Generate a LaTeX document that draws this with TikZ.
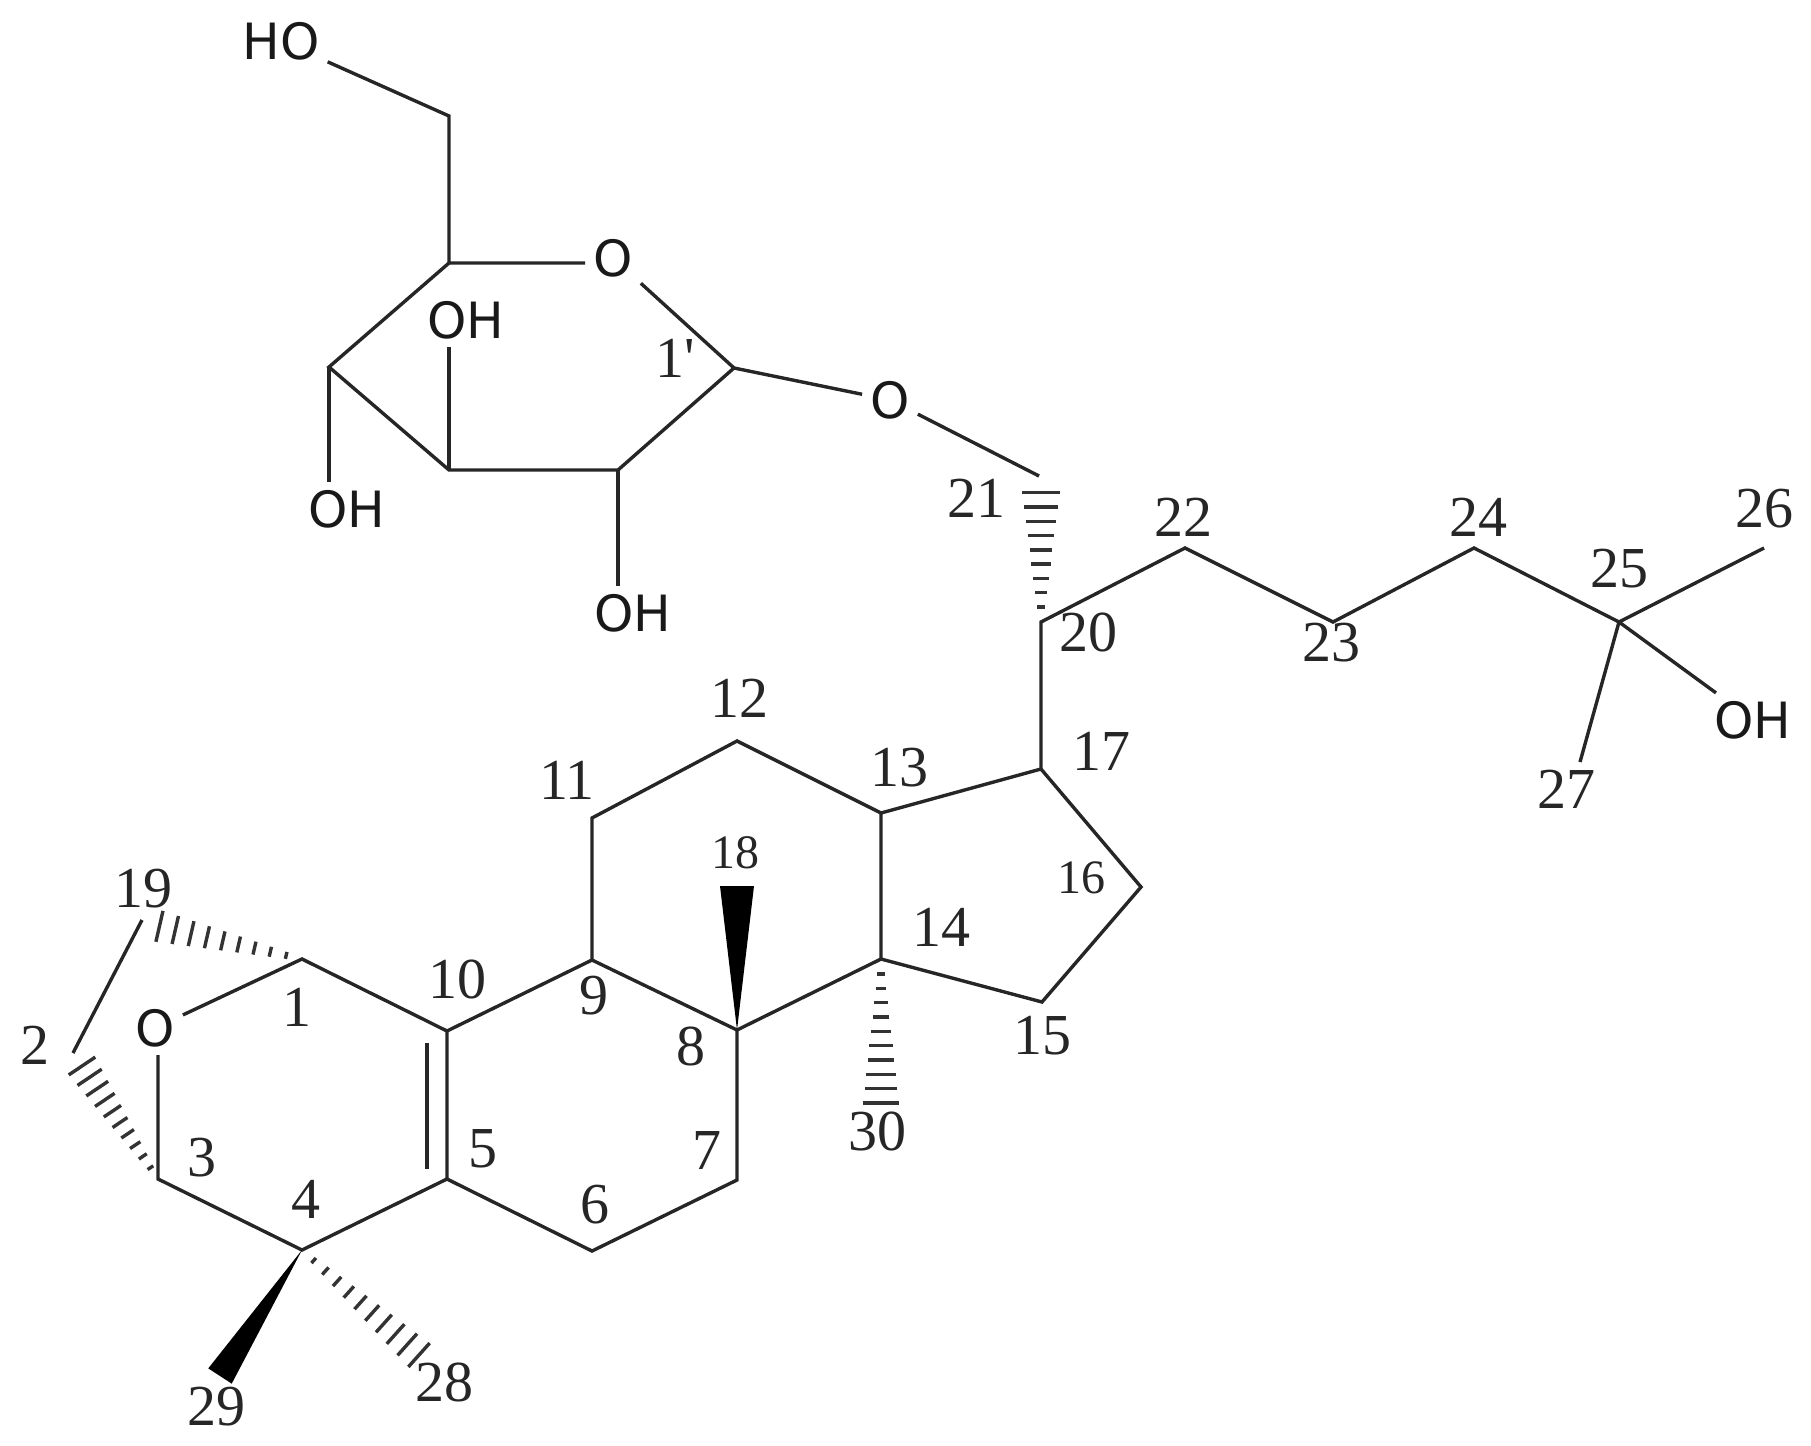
\documentclass[tikz,border=0pt]{standalone}
\usepackage{fontspec}
\setmainfont{Liberation Serif}
\newfontfamily\atomfont{DejaVu Sans}
\usetikzlibrary{calc}

% enlace punteado que se abre de #1 a #2, #3 = media anchura final, #4 = posiciones
\newcommand{\hashbond}[4]{
    \foreach \t [evaluate=\t as \d using 2+\t*(#3-2)] in {#4} {
        \draw[hash] ($(#1)!\t!(#2)!\d pt!90:(#2)$) -- ($(#1)!\t!(#2)!\d pt!-90:(#2)$);
    }
}
% enlace en cuna
\newcommand{\wedgebond}[3]{
    \fill ($(#2)!#3 pt!90:(#1)$) -- (#1) -- ($(#2)!#3 pt!-90:(#1)$) -- cycle;
}

\begin{document}
\begin{tikzpicture}[
        x=1pt, y=-1pt,
        bond/.style={line width=3.4pt, black!85},
        hash/.style={line width=3.4pt, black!80},
        num/.style={font=\fontsize{58}{60}\selectfont, inner sep=0pt, black!85},
        numsmall/.style={font=\fontsize{48}{50}\selectfont, inner sep=0pt, black!85},
        atom/.style={font=\atomfont\fontsize{50}{52}\selectfont, inner sep=8pt, black!90}
    ]
        \useasboundingbox (0,0) rectangle (1811,1445);

        % --- Atomos del esqueleto ---
        \coordinate (C1) at (302,959);
        \coordinate (C2) at (73,1053);
        \coordinate (C3) at (158,1179);
        \coordinate (C4) at (302,1250);
        \coordinate (C5) at (447,1179);
        \coordinate (C6) at (592,1251);
        \coordinate (C7) at (737,1180);
        \coordinate (C8) at (737,1030);
        \coordinate (C9) at (592,960);
        \coordinate (C10) at (447,1031);
        \coordinate (C11) at (592,818);
        \coordinate (C12) at (737,741);
        \coordinate (C13) at (881,813);
        \coordinate (C14) at (881,959);
        \coordinate (C15) at (1042,1002);
        \coordinate (C16) at (1141,887);
        \coordinate (C17) at (1041,769);
        \coordinate (C18) at (737,886);
        \coordinate (C19) at (142,920);
        \coordinate (C20) at (1041,622);
        \coordinate (C21) at (1039,476);
        \coordinate (C22) at (1185,548);
        \coordinate (C23) at (1333,622);
        \coordinate (C24) at (1474,548);
        \coordinate (C25) at (1619,622);
        \coordinate (C26) at (1764,548);
        \coordinate (C27) at (1580,762);
        \coordinate (C28) at (419,1355);
        \coordinate (C29) at (220,1376);
        \coordinate (C30) at (881,1103);

        % puntos finales de los enlaces punteados
        \coordinate (H2) at (82,1066);
        \coordinate (H19) at (158,926);
        \coordinate (H21) at (1041,492);

        % doble enlace
        \coordinate (D10) at (427,1043);
        \coordinate (D5) at (427,1169);

        % --- Azucar ---
        \coordinate (S1) at (734,368);
        \coordinate (S2) at (618,470);
        \coordinate (S3) at (449,470);
        \coordinate (S4) at (329,367);
        \coordinate (S5) at (449,263);
        \coordinate (S6) at (449,116);

        % --- Heteroatomos ---
        \node[atom] (O1) at (155,1028) {O};
        \node[atom] (O5) at (613,258) {O};
        \node[atom] (O7) at (890,400) {O};
        \node[atom] (HO6) at (281,41) {HO};
        \node[atom] (OH3) at (466,320) {OH};
        \node[atom] (OH4) at (347,509) {OH};
        \node[atom] (OH2) at (633,613) {OH};
        \node[atom] (OH25) at (1753,720) {OH};

        % --- Enlaces ---
        \draw[bond] (O1) -- (C1) -- (C10) -- (C5) -- (C4) -- (C3) -- (C3 |- O1.south);
        \draw[bond] (D10) -- (D5);
        \draw[bond] (C10) -- (C9) -- (C8) -- (C7) -- (C6) -- (C5);
        \draw[bond] (C9) -- (C11) -- (C12) -- (C13) -- (C14) -- (C8);
        \draw[bond] (C13) -- (C17) -- (C16) -- (C15) -- (C14);
        \draw[bond] (C17) -- (C20) -- (C22) -- (C23) -- (C24) -- (C25) -- (C26);
        \draw[bond] (C25) -- (C27);
        \draw[bond] (C25) -- (OH25);
        \draw[bond] (C2) -- (C19);
        \draw[bond] (O7) -- (C21);

        \draw[bond] (HO6) -- (S6) -- (S5) -- (S5 -| O5.west);
        \draw[bond] (O5) -- (S1) -- (S2) -- (S3) -- (S4) -- (S5);
        \draw[bond] (S1) -- (O7);
        \draw[bond] (S3) -- (S3 |- OH3.south);
        \draw[bond] (S4) -- (S4 |- OH4.north);
        \draw[bond] (S2) -- (S2 |- OH2.north);

        % --- Enlaces en cuna y punteados ---
        \wedgebond{C4}{C29}{14}
        \wedgebond{C8}{C18}{17}
        \hashbond{C3}{H2}{16}{0.1,0.2,...,1.01}
        \hashbond{C1}{H19}{16}{0.11,0.22,...,1.01}
        \hashbond{C4}{C28}{16}{0.1,0.2,...,1.01}
        \hashbond{C20}{H21}{19}{0.115,0.225,...,1.01}
        \hashbond{C14}{C30}{18}{0.105,0.2045,...,1.01}

        % --- Numeros ---
        \node[num] (n1) at (297,1007) {1};
        \node[num] (n2) at (35,1045) {2};
        \node[num] (n3) at (202,1158) {3};
        \node[num] (n4) at (306,1199) {4};
        \node[num] (n5) at (483,1149) {5};
        \node[num] (n6) at (595,1205) {6};
        \node[num] (n7) at (707,1150) {7};
        \node[num] (n8) at (691,1046) {8};
        \node[num] (n9) at (594,996) {9};
        \node[num] (n10) at (457,979) {10};
        \node[num] (n11) at (567,780) {11};
        \node[num] (n12) at (739,698) {12};
        \node[num] (n13) at (899,768) {13};
        \node[num] (n14) at (941,927) {14};
        \node[num] (n15) at (1042,1036) {15};
        \node[numsmall] (n16) at (1081,878) {16};
        \node[num] (n17) at (1101,751) {17};
        \node[numsmall] (n18) at (735,853) {18};
        \node[num] (n19) at (143,889) {19};
        \node[num] (n20) at (1088,632) {20};
        \node[num] (n21) at (976,498) {21};
        \node[num] (n22) at (1183,517) {22};
        \node[num] (n23) at (1331,643) {23};
        \node[num] (n24) at (1478,517) {24};
        \node[num] (n25) at (1619,569) {25};
        \node[num] (n26) at (1764,509) {26};
        \node[num] (n27) at (1566,789) {27};
        \node[num] (n28) at (444,1382) {28};
        \node[num] (n29) at (216,1407) {29};
        \node[num] (n30) at (877,1131) {30};
        \node[num] (n1p) at (675,358) {1\textquotesingle};
\end{tikzpicture}
\end{document}
